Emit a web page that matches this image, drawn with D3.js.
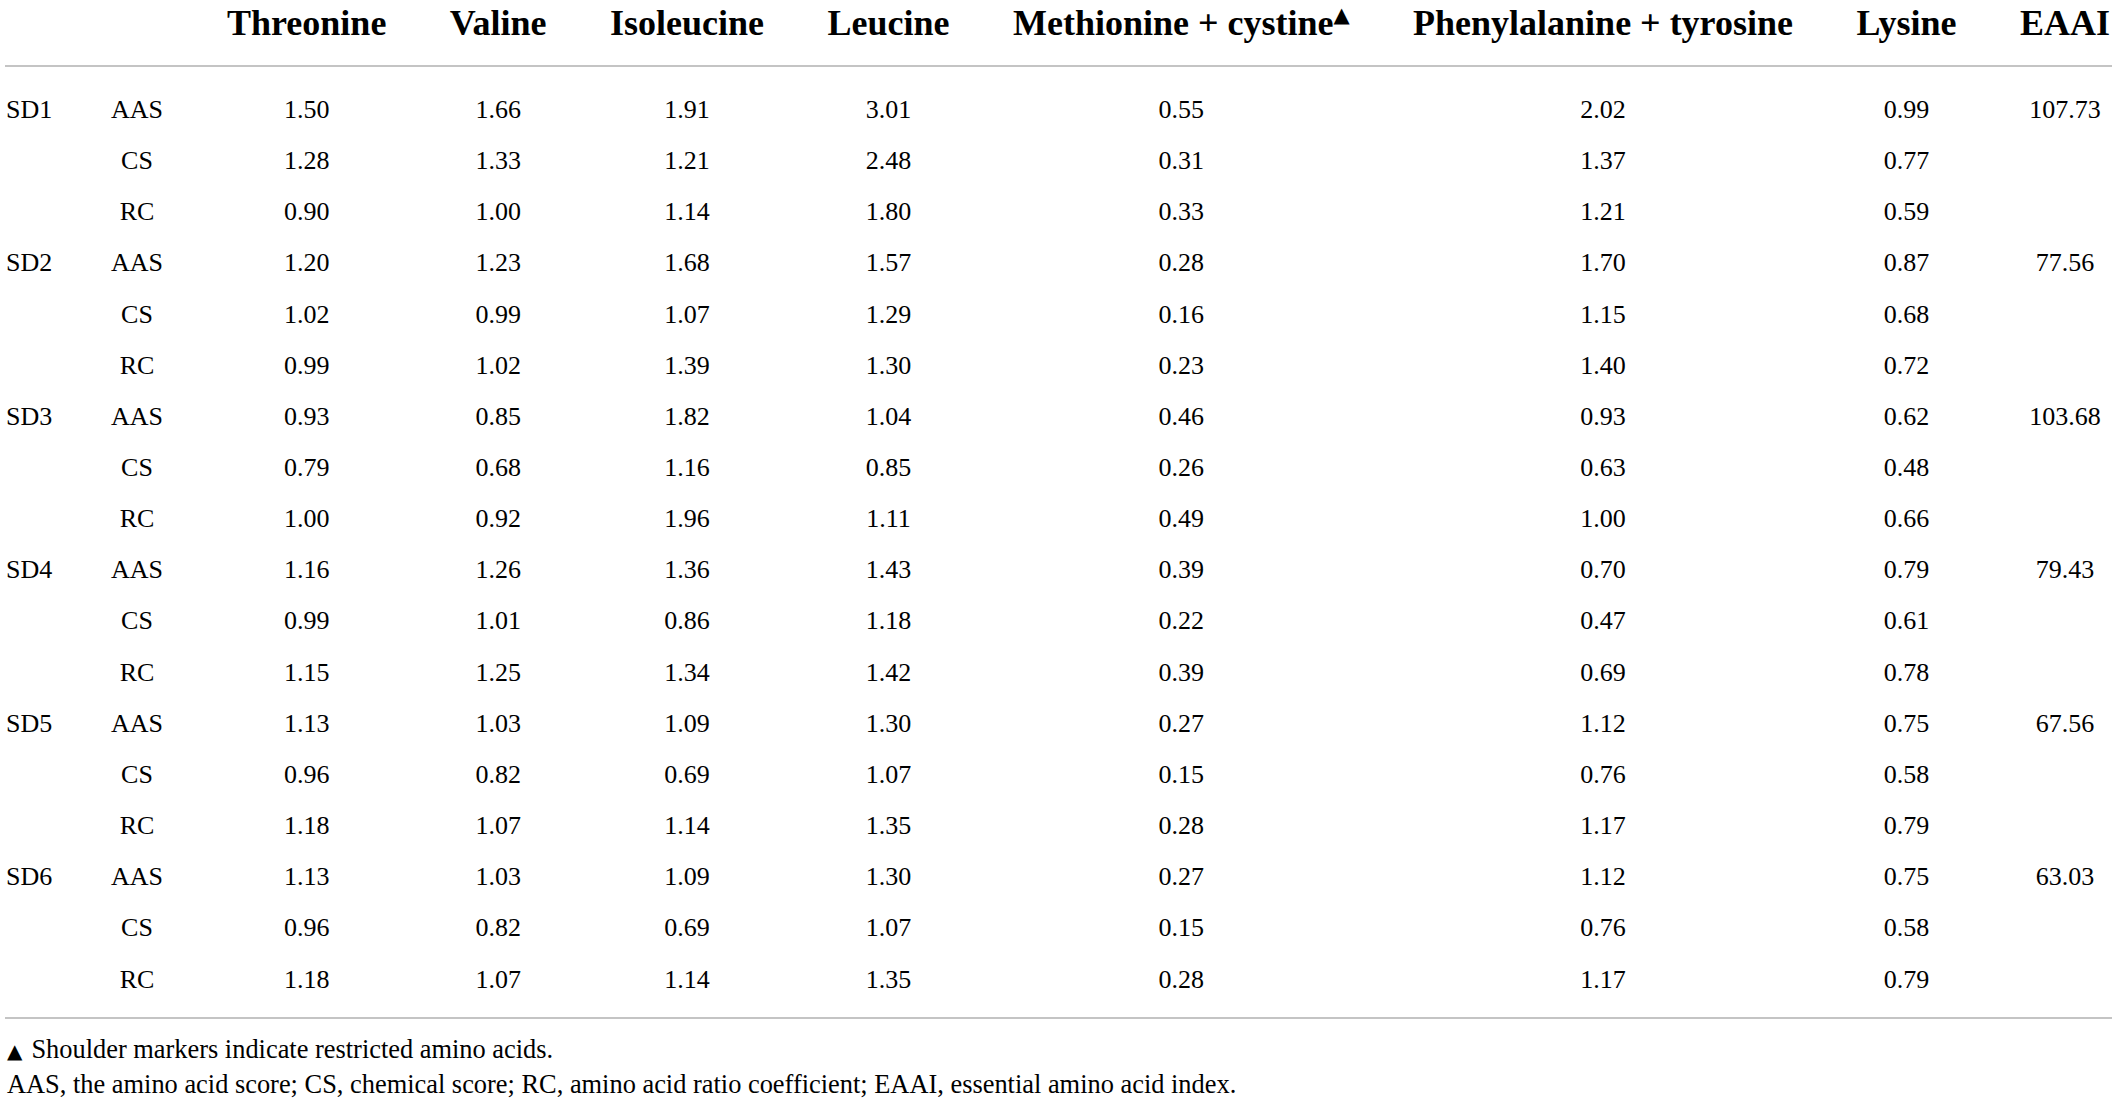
<!DOCTYPE html>
<html>
<head>
<meta charset="utf-8">
<script src="https://cdn.jsdelivr.net/npm/d3@7"></script>
<style>
  html, body { margin: 0; padding: 0; background: #fff; }
  text { fill: #000; }
  .head { font-family: "Liberation Serif", "Times New Roman", serif; font-weight: bold; font-size: 36px; }
  .cell { font-family: "Liberation Serif", "Times New Roman", serif; font-size: 26px; }
  .note { font-family: "Liberation Serif", "Times New Roman", serif; font-size: 26.4px; }
  .mark { font-family: "DejaVu Sans", sans-serif; font-weight: normal; }
</style>
</head>
<body>
<div id="table"></div>
<script>
var svgWidth = 2117;
var svgHeight = 1105;

// column headers
var aminoAcids = ["Threonine", "Valine", "Isoleucine", "Leucine",
  "Methionine + cystine", "Phenylalanine + tyrosine", "Lysine"];
var limitedAcid = "Methionine + cystine";   // gets the shoulder marker
var samples = ["SD1", "SD2", "SD3", "SD4", "SD5", "SD6"];
var indices = ["AAS", "CS", "RC"];

// values, one array per sample, rows = AAS / CS / RC, cols = aminoAcids
var sd1 = [[1.50, 1.66, 1.91, 3.01, 0.55, 2.02, 0.99],
           [1.28, 1.33, 1.21, 2.48, 0.31, 1.37, 0.77],
           [0.90, 1.00, 1.14, 1.80, 0.33, 1.21, 0.59]];
var sd2 = [[1.20, 1.23, 1.68, 1.57, 0.28, 1.70, 0.87],
           [1.02, 0.99, 1.07, 1.29, 0.16, 1.15, 0.68],
           [0.99, 1.02, 1.39, 1.30, 0.23, 1.40, 0.72]];
var sd3 = [[0.93, 0.85, 1.82, 1.04, 0.46, 0.93, 0.62],
           [0.79, 0.68, 1.16, 0.85, 0.26, 0.63, 0.48],
           [1.00, 0.92, 1.96, 1.11, 0.49, 1.00, 0.66]];
var sd4 = [[1.16, 1.26, 1.36, 1.43, 0.39, 0.70, 0.79],
           [0.99, 1.01, 0.86, 1.18, 0.22, 0.47, 0.61],
           [1.15, 1.25, 1.34, 1.42, 0.39, 0.69, 0.78]];
var sd5 = [[1.13, 1.03, 1.09, 1.30, 0.27, 1.12, 0.75],
           [0.96, 0.82, 0.69, 1.07, 0.15, 0.76, 0.58],
           [1.18, 1.07, 1.14, 1.35, 0.28, 1.17, 0.79]];
var sd6 = [[1.13, 1.03, 1.09, 1.30, 0.27, 1.12, 0.75],
           [0.96, 0.82, 0.69, 1.07, 0.15, 0.76, 0.58],
           [1.18, 1.07, 1.14, 1.35, 0.28, 1.17, 0.79]];
var eaai = [107.73, 77.56, 103.68, 79.43, 67.56, 63.03];

var footnotes = [
  "Shoulder markers indicate restricted amino acids.",
  "AAS, the amino acid score; CS, chemical score; RC, amino acid ratio coefficient; EAAI, essential amino acid index."
];

var sampleValues = [sd1, sd2, sd3, sd4, sd5, sd6];
var columns = aminoAcids.concat(["EAAI"]);

// flatten into table rows
var rows = [];
samples.forEach(function(s, i) {
  indices.forEach(function(idx, j) {
    rows.push({
      key: s + "-" + idx,
      sample: j === 0 ? s : "",
      index: idx,
      values: sampleValues[i][j].map(function(v) { return v.toFixed(2); })
        .concat([j === 0 ? eaai[i].toFixed(2) : ""])
    });
  });
});

var svg = d3.select("#table")
  .append("svg")
  .attr("width", svgWidth)
  .attr("height", svgHeight);

var ruleLeft = 5, ruleRight = 2112;
var headLeft = 227, headRight = 2110;
var headBase = 35;
var topRule = 66, bottomRule = 1018;

// header cells
var headers = svg.append("g").selectAll("text")
  .data(columns)
  .enter()
  .append("text")
  .attr("class", "head")
  .attr("y", headBase)
  .attr("text-anchor", "middle");

headers.append("tspan").text(function(d) { return d; });
headers.filter(function(d) { return d === limitedAcid; })
  .append("tspan")
  .attr("class", "mark")
  .attr("font-size", 21)
  .attr("dy", -13)
  .text("\u25B2");

// column widths follow the header text, like an auto table layout
var widths = [];
headers.each(function() { widths.push(this.getComputedTextLength()); });
var gap = (headRight - headLeft - d3.sum(widths)) / (columns.length - 1);
var centers = [];
var cursor = headLeft;
widths.forEach(function(w) {
  centers.push(cursor + w / 2);
  cursor += w + gap;
});

var xScale = d3.scaleOrdinal().domain(columns).range(centers);

headers.attr("x", function(d) { return xScale(d); });

// row positions
var yScale = d3.scalePoint()
  .domain(rows.map(function(r) { return r.key; }))
  .range([118, 987.5]);

svg.append("line")
  .attr("x1", ruleLeft).attr("x2", ruleRight)
  .attr("y1", topRule).attr("y2", topRule)
  .attr("stroke", "#c4c4c4").attr("stroke-width", 2);

svg.append("line")
  .attr("x1", ruleLeft).attr("x2", ruleRight)
  .attr("y1", bottomRule).attr("y2", bottomRule)
  .attr("stroke", "#c4c4c4").attr("stroke-width", 2);

var rowGroups = svg.append("g").selectAll("g")
  .data(rows)
  .enter()
  .append("g")
  .attr("transform", function(d) { return "translate(0," + yScale(d.key) + ")"; });

rowGroups.append("text")
  .attr("class", "cell")
  .attr("x", 6)
  .text(function(d) { return d.sample; });

rowGroups.append("text")
  .attr("class", "cell")
  .attr("x", 137)
  .attr("text-anchor", "middle")
  .text(function(d) { return d.index; });

rowGroups.selectAll("text.val")
  .data(function(d) { return d.values; })
  .enter()
  .append("text")
  .attr("class", "cell val")
  .attr("text-anchor", "middle")
  .attr("x", function(d, i) { return xScale(columns[i]); })
  .text(function(d) { return d; });

// footnotes
var note1 = svg.append("text")
  .attr("class", "note")
  .attr("x", 7)
  .attr("y", 1058);
note1.append("tspan")
  .attr("class", "mark")
  .attr("font-size", 20)
  .text("\u25B2");
note1.append("tspan")
  .attr("dx", 9)
  .text(footnotes[0]);

svg.append("text")
  .attr("class", "note")
  .attr("x", 7)
  .attr("y", 1093)
  .text(footnotes[1]);
</script>
</body>
</html>
